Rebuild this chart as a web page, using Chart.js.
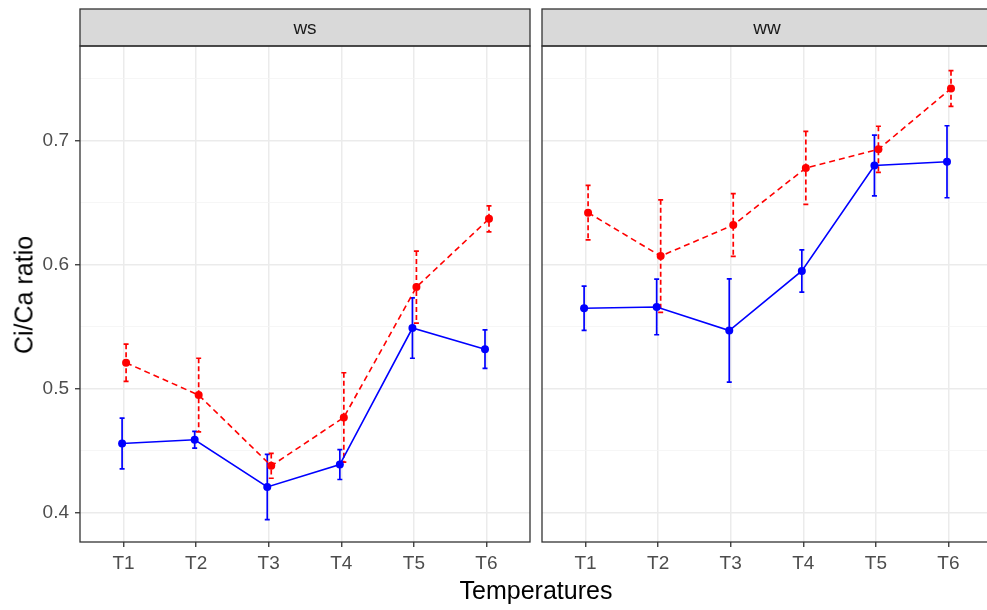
<!DOCTYPE html>
<html>
<head>
<meta charset="utf-8">
<script src="https://cdn.jsdelivr.net/npm/chart.js@4/dist/chart.umd.min.js"></script>
<style>
  html, body { margin:0; padding:0; background:#fff; overflow:hidden; }
  #wrap { position:relative; width:987px; height:610px; overflow:hidden; }
  canvas { position:absolute; top:0; }
  .title { position:absolute; font-family:"Liberation Sans", Arial, sans-serif; font-size:25px; line-height:1; color:#000; white-space:nowrap; }
</style>
</head>
<body>
<div id="wrap">
  <canvas id="c1" width="535" height="610" style="left:0px"></canvas>
  <canvas id="c2" width="460" height="610" style="left:537px"></canvas>
  <div class="title" style="left:24px; top:295px; transform:translate(-50%,-50%) rotate(-90deg);">Ci/Ca ratio</div>
  <div class="title" style="left:536px; top:590px; transform:translate(-50%,-50%);">Temperatures</div>
</div>
<script>
// ---- data ----
const categories = ['T1', 'T2', 'T3', 'T4', 'T5', 'T6'];
const panels = ['ws', 'ww'];
const yTicks = [0.4, 0.5, 0.6, 0.7];

const wsBlueMean = [0.456, 0.459, 0.421, 0.439, 0.549, 0.532];
const wsBlueSE   = [0.0204, 0.0067, 0.0263, 0.0120, 0.0243, 0.0155];
const wsRedMean  = [0.521, 0.495, 0.438, 0.477, 0.582, 0.637];
const wsRedSE    = [0.0150, 0.0297, 0.0100, 0.0360, 0.0290, 0.0105];

const wwBlueMean = [0.565, 0.566, 0.547, 0.595, 0.680, 0.683];
const wwBlueSE   = [0.0178, 0.0224, 0.0416, 0.0170, 0.0245, 0.0290];
const wwRedMean  = [0.642, 0.607, 0.632, 0.678, 0.693, 0.742];
const wwRedSE    = [0.0220, 0.0453, 0.0253, 0.0294, 0.0186, 0.0144];

// ---- styling ----
const FONT = '"Liberation Sans", Arial, sans-serif';
const BLUE = '#0000ff', RED = '#ff0000';
const DODGE_BLUE = -0.02, DODGE_RED = 0.035;

function isMajor(v) { return yTicks.some(t => Math.abs(t - v) < 1e-6); }

const errorBarPlugin = {
  id: 'errorBars',
  beforeDatasetsDraw(chart) {
    const ctx = chart.ctx, xs = chart.scales.x, ys = chart.scales.y;
    ctx.save();
    ctx.beginPath();
    ctx.rect(chart.chartArea.left, chart.chartArea.top, chart.chartArea.right - chart.chartArea.left, chart.chartArea.bottom - chart.chartArea.top);
    ctx.clip();
    chart.data.datasets.forEach(ds => {
      ctx.strokeStyle = ds.borderColor;
      ctx.lineWidth = 1.7;
      ctx.setLineDash(ds.errDash || []);
      ds.data.forEach((p, i) => {
        const se = ds.se[i];
        const x = xs.getPixelForValue(p.x);
        const yt = ys.getPixelForValue(p.y + se);
        const yb = ys.getPixelForValue(p.y - se);
        ctx.beginPath();
        ctx.moveTo(x, yt); ctx.lineTo(x, yb);
        ctx.moveTo(x - 2.5, yt); ctx.lineTo(x + 2.5, yt);
        ctx.moveTo(x - 2.5, yb); ctx.lineTo(x + 2.5, yb);
        ctx.stroke();
      });
    });
    ctx.restore();
  }
};

const framePlugin = {
  id: 'frame',
  afterDraw(chart, args, opts) {
    const ctx = chart.ctx, a = chart.chartArea;
    ctx.save();
    // strip
    ctx.fillStyle = '#d9d9d9';
    ctx.fillRect(a.left, 9, a.right - a.left, a.top - 9);
    ctx.strokeStyle = '#333333';
    ctx.lineWidth = 1.3;
    ctx.strokeRect(a.left, 9, a.right - a.left, a.top - 9);
    ctx.fillStyle = '#1a1a1a';
    ctx.font = '19px ' + FONT;
    ctx.textAlign = 'center';
    ctx.textBaseline = 'middle';
    ctx.fillText(opts.label, (a.left + a.right) / 2, (9 + a.top) / 2 + 1);
    // panel border
    ctx.strokeRect(a.left, a.top, a.right - a.left, a.bottom - a.top);
    ctx.restore();
  }
};

function makeChart(id, label, blueMean, blueSE, redMean, redSE, showY) {
  const data = {
    datasets: [
      {
        data: blueMean.map((m, i) => ({ x: i + 1 + DODGE_BLUE, y: m })),
        se: blueSE,
        borderColor: BLUE, backgroundColor: BLUE,
        borderWidth: 1.6, pointRadius: 4, pointBorderWidth: 0,
        pointBackgroundColor: BLUE, tension: 0
      },
      {
        data: redMean.map((m, i) => ({ x: i + 1 + DODGE_RED, y: m })),
        se: redSE,
        borderColor: RED, backgroundColor: RED,
        borderWidth: 1.6, borderDash: [6, 4], errDash: [5, 3],
        pointRadius: 4, pointBorderWidth: 0,
        pointBackgroundColor: RED, tension: 0
      }
    ]
  };
  return new Chart(document.getElementById(id), {
    type: 'line',
    data,
    plugins: [errorBarPlugin, framePlugin],
    options: {
      responsive: false,
      animation: false,
      events: [],
      layout: { padding: { top: 46, right: 5, left: 0, bottom: 0 } },
      plugins: { legend: { display: false }, tooltip: { enabled: false }, frame: { label } },
      scales: {
        x: {
          type: 'linear', min: 0.4, max: 6.6,
          ticks: {
            stepSize: 1, includeBounds: false, autoSkip: false, maxRotation: 0,
            callback: v => categories[Math.round(v) - 1] || '',
            color: '#4d4d4d', font: { family: FONT, size: 19 }, padding: 5
          },
          grid: { color: '#ebebeb', lineWidth: 1.5, tickColor: '#333333', tickLength: 5, tickWidth: 1.3 },
          border: { display: false },
          afterFit: s => { s.height = 68; }
        },
        y: {
          type: 'linear', min: 0.37665, max: 0.77625,
          ticks: {
            display: showY,
            stepSize: 0.05, includeBounds: false,
            callback: v => isMajor(v) ? v.toFixed(1) : '',
            color: '#4d4d4d', font: { family: FONT, size: 19 }, padding: 6
          },
          grid: {
            color: c => (c.tick && isMajor(c.tick.value)) ? '#ebebeb' : '#f4f4f4',
            lineWidth: c => (c.tick && isMajor(c.tick.value)) ? 1.5 : 0.8,
            tickColor: c => (showY && c.tick && isMajor(c.tick.value)) ? '#333333' : 'rgba(0,0,0,0)',
            tickLength: showY ? 5 : 0, tickWidth: 1.3, drawTicks: showY
          },
          border: { display: false },
          afterFit: s => { s.width = showY ? 80 : 5; }
        }
      }
    }
  });
}

makeChart('c1', panels[0], wsBlueMean, wsBlueSE, wsRedMean, wsRedSE, true);
makeChart('c2', panels[1], wwBlueMean, wwBlueSE, wwRedMean, wwRedSE, false);
</script>
</body>
</html>
